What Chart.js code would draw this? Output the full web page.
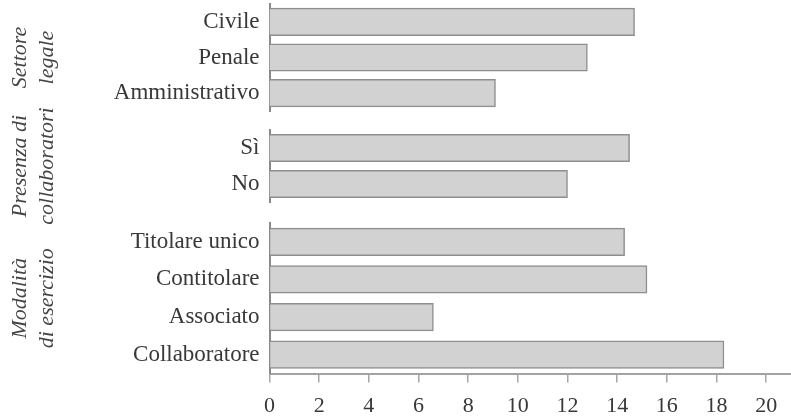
<!DOCTYPE html>
<html>
<head>
<meta charset="utf-8">
<script src="https://cdn.jsdelivr.net/npm/chart.js@4/dist/chart.umd.min.js"></script>
<style>
  html, body { margin: 0; padding: 0; background: #ffffff; }
  #wrap { position: relative; width: 791px; height: 419px; overflow: hidden; }
  #wrap canvas { position: absolute; left: 0; top: 0; }
</style>
</head>
<body>
<div id="wrap">
  <canvas id="c1" width="791" height="419"></canvas>
  <canvas id="c2" width="791" height="419"></canvas>
  <canvas id="c3" width="791" height="419"></canvas>
</div>
<script>
// ---- data ----
const settoreTitle = ['Settore', 'legale'];
const settoreLabels = ['Civile', 'Penale', 'Amministrativo'];
const settoreValues = [14.7, 12.8, 9.1];

const presenzaTitle = ['Presenza di', 'collaboratori'];
const presenzaLabels = ['Sì', 'No'];
const presenzaValues = [14.5, 12.0];

const modalitaTitle = ['Modalità', 'di esercizio'];
const modalitaLabels = ['Titolare unico', 'Contitolare', 'Associato', 'Collaboratore'];
const modalitaValues = [14.3, 15.2, 6.6, 18.3];

const xMin = 0;
const xMax = 21;
const xStep = 2;

// ---- styles ----
const SERIF = "'Liberation Serif', 'Times New Roman', serif";
const TEXT = '#383838';

function makeChart(id, labels, values, title, padTop, padBottom, showX) {
  return new Chart(document.getElementById(id), {
    type: 'bar',
    data: {
      labels: labels,
      datasets: [{
        data: values,
        backgroundColor: '#d2d2d2',
        borderColor: '#8e8e8e',
        borderWidth: 1.5,
        barThickness: 27.5
      }]
    },
    options: {
      indexAxis: 'y',
      responsive: false,
      animation: false,
      events: [],
      layout: { padding: { top: padTop, bottom: padBottom, left: 0, right: 0 } },
      plugins: { legend: { display: false }, tooltip: { enabled: false } },
      scales: {
        x: {
          display: showX,
          min: xMin,
          max: xMax,
          afterFit: function (s) {
            if (showX) { s.height = 45.5; }
            s.paddingLeft = 0; s.paddingRight = 0;
          },
          ticks: {
            stepSize: xStep,
            includeBounds: false,
            font: { family: SERIF, size: 22 },
            color: TEXT,
            padding: 11,
            maxRotation: 0
          },
          grid: {
            display: true,
            drawOnChartArea: false,
            drawTicks: true,
            tickLength: 9,
            color: '#a6a6a6',
            lineWidth: 1.5
          },
          border: { display: true, color: '#a3a3a3', width: 2 }
        },
        y: {
          afterFit: function (s) {
            s.width = 269.5;
            s.paddingTop = 0; s.paddingBottom = 0;
          },
          ticks: {
            font: { family: SERIF, size: 23 },
            color: TEXT,
            padding: 10
          },
          grid: { display: false, drawTicks: false },
          border: { display: true, color: '#8a8a8a', width: 2 },
          title: {
            display: true,
            text: title,
            color: '#444444',
            font: { family: SERIF, style: 'italic', size: 22, lineHeight: 1.25 },
            padding: { top: 6, bottom: 0 }
          }
        }
      }
    }
  });
}

makeChart('c1', settoreLabels, settoreValues, settoreTitle, 4, 419 - 111, false);
makeChart('c2', presenzaLabels, presenzaValues, presenzaTitle, 130, 419 - 202, false);
makeChart('c3', modalitaLabels, modalitaValues, modalitaTitle, 223, 0, true);
</script>
</body>
</html>
